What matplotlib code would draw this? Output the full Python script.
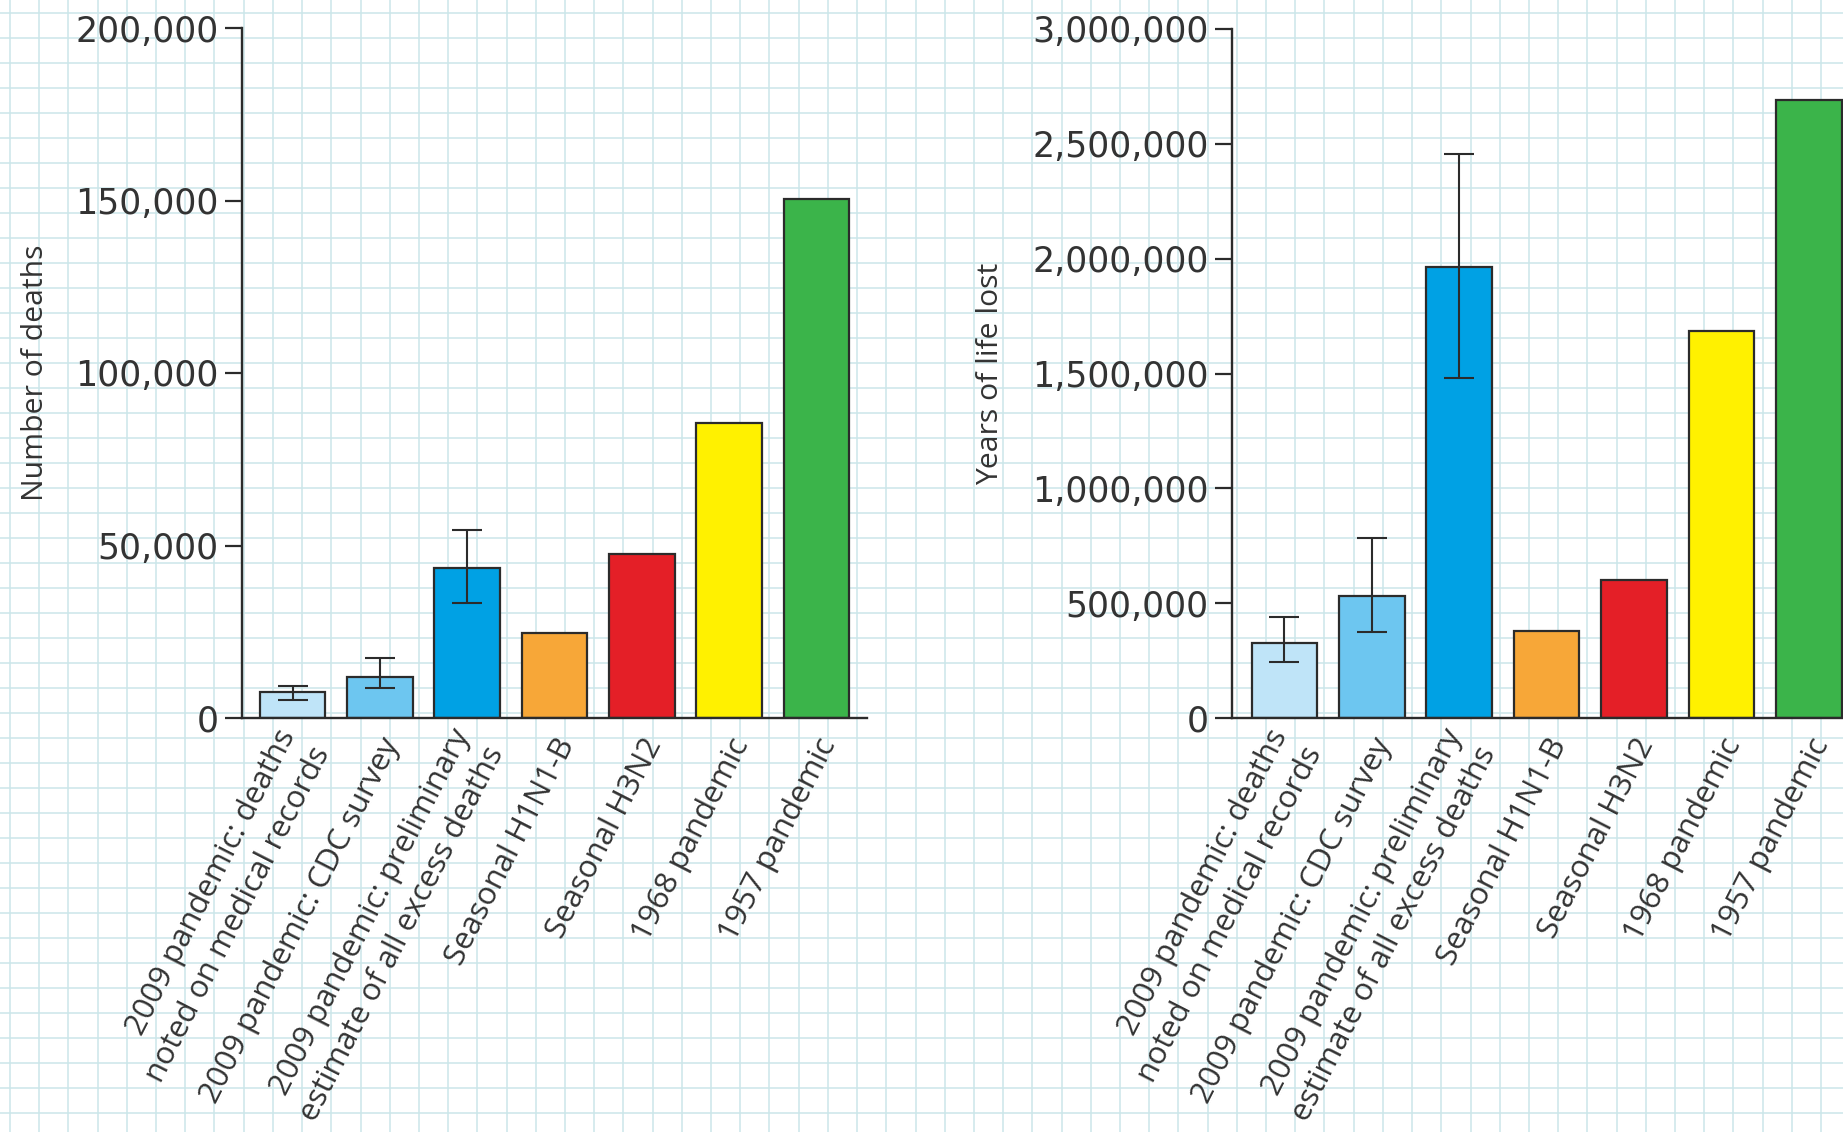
"""
Deaths and years of life lost: 2009 pandemic vs seasonal and earlier pandemics.
"""
import numpy as np
import matplotlib
matplotlib.use('Agg')
import matplotlib.pyplot as plt
from matplotlib import transforms
from matplotlib.ticker import FuncFormatter

categories = [
    '2009 pandemic: deaths\nnoted on medical records',
    '2009 pandemic: CDC survey',
    '2009 pandemic: preliminary\nestimate of all excess deaths',
    'Seasonal H1N1-B',
    'Seasonal H3N2',
    '1968 pandemic',
    '1957 pandemic',
]
colors = ['#bfe4f8', '#6dc6f0', '#00a1e4', '#f7a738', '#e41f27', '#fff100', '#3bb44a']

deaths = [7500, 12000, 43600, 24500, 47600, 85500, 150500]
deaths_low = [5300, 8700, 33300]
deaths_high = [9400, 17500, 54600]

years_lost = [328000, 532000, 1965000, 379000, 599000, 1684000, 2690000]
years_low = [245000, 374000, 1479000]
years_high = [440000, 783000, 2456000]

W, H = 1843, 1132
fig = plt.figure(figsize=(W / 100, H / 100), dpi=100)
fig.patch.set_facecolor('white')

# graph-paper background
bg = fig.add_axes([0, 0, 1, 1], zorder=-5)
bg.set_xlim(0, W)
bg.set_ylim(H, 0)
bg.axis('off')
bg.vlines(np.arange(10, W, 29.21), 0, H, color='#cbe6ea', lw=1.1)
bg.hlines(np.arange(13.3, H, 25.0), 0, W, color='#cbe6ea', lw=1.1)

ink = '#2b2b2b'
fmt = FuncFormatter(lambda v, p: '{:,.0f}'.format(v))


def draw_panel(rect, values, low, high, ymax, step, ylabel, xlim, label_x):
    ax = fig.add_axes(rect)
    ax.set_facecolor('none')
    x = np.arange(len(values))
    ax.bar(x, values, width=0.75, color=colors, edgecolor=ink, linewidth=1.6,
           zorder=2)
    n = len(low)
    mid = np.array(values[:n])
    ax.errorbar(x[:n], mid, yerr=[mid - np.array(low), np.array(high) - mid],
                fmt='none', ecolor=ink, elinewidth=1.5, capsize=10.5,
                capthick=1.5, zorder=3)
    ax.set_xlim(*xlim)
    ax.set_ylim(0, ymax)
    ax.set_yticks(np.arange(0, ymax + 1, step))
    ax.yaxis.set_major_formatter(fmt)
    for s in ['top', 'right']:
        ax.spines[s].set_visible(False)
    for s in ['left', 'bottom']:
        ax.spines[s].set_linewidth(1.7)
        ax.spines[s].set_color(ink)
    ax.tick_params(axis='y', length=12, width=1.6, color=ink, pad=5,
                   labelsize=25, labelcolor='#333333')
    ax.set_xticks([])
    ax.set_ylabel(ylabel, fontsize=21.7, color='#333333', va='center',
                  family='Open Sans')
    ax.yaxis.set_label_coords(label_x, 0.5)
    tr = transforms.offset_copy(ax.get_xaxis_transform(), fig=fig,
                                x=13, y=-22, units='dots')
    for i, lab in enumerate(categories):
        ax.text(x[i], 0, lab, transform=tr, rotation=63, ha='right',
                va='center', rotation_mode='anchor', fontsize=22.5,
                color='#333333', family='Open Sans', linespacing=1.35)
    return ax


draw_panel([242 / W, 414 / H, 625 / W, 690 / H], deaths, deaths_low,
           deaths_high, 200000, 50000, 'Number of deaths', (-0.58, 6.58),
           -0.33)
draw_panel([1232 / W, 414 / H, 611 / W, 689 / H], years_lost, years_low,
           years_high, 3000000, 500000, 'Years of life lost', (-0.6, 6.39),
           -0.395)

plt.savefig('out.png', dpi=100)
